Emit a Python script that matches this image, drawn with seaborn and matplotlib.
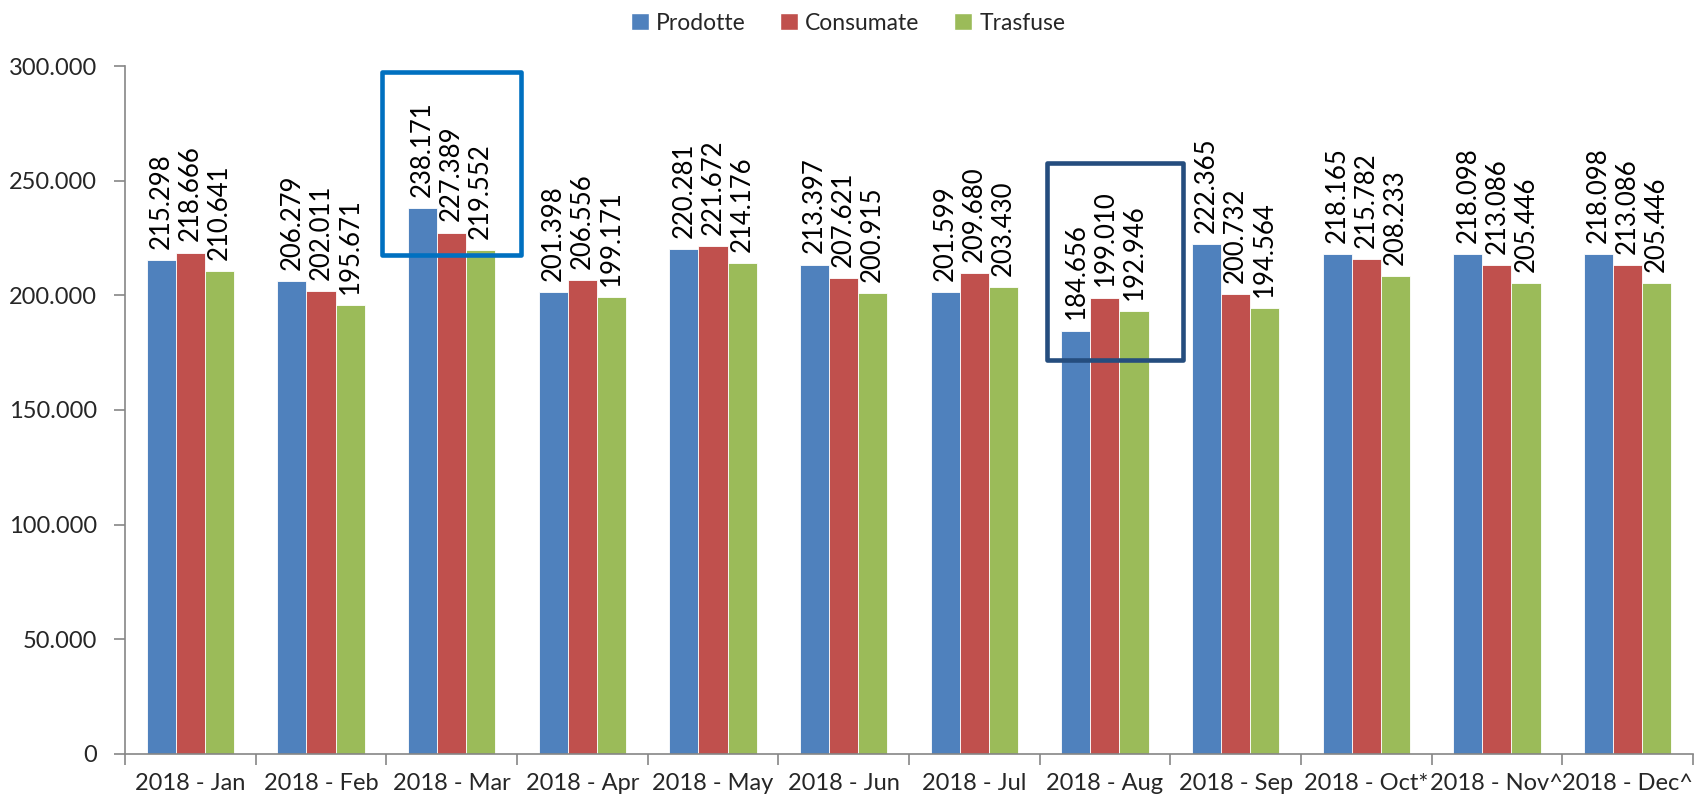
import pandas as pd
import numpy as np
import matplotlib
matplotlib.use('Agg')
import matplotlib.pyplot as plt
import seaborn as sns
from matplotlib.patches import Rectangle
from matplotlib.ticker import FuncFormatter, FixedLocator

months = ['2018 - Jan', '2018 - Feb', '2018 - Mar', '2018 - Apr', '2018 - May', '2018 - Jun',
          '2018 - Jul', '2018 - Aug', '2018 - Sep', '2018 - Oct*', '2018 - Nov^', '2018 - Dec^']
prodotte = [215298, 206279, 238171, 201398, 220281, 213397, 201599, 184656, 222365, 218165, 218098, 218098]
consumate = [218666, 202011, 227389, 206556, 221672, 207621, 209680, 199010, 200732, 215782, 213086, 213086]
trasfuse = [210641, 195671, 219552, 199171, 214176, 200915, 203430, 192946, 194564, 208233, 205446, 205446]
series = ['Prodotte', 'Consumate', 'Trasfuse']
colors = ['#4F81BD', '#C0504D', '#9BBB59']

df = pd.DataFrame({'mese': months * 3,
                   'serie': np.repeat(series, len(months)),
                   'valore': prodotte + consumate + trasfuse})

sns.set_style('white')
plt.rcParams['font.family'] = ['Lato', 'DejaVu Sans']

def itfmt(v):
    return f'{int(round(v)):,}'.replace(',', '.')

fig = plt.figure(figsize=(16.96, 8.02), dpi=100)
ax = fig.add_axes([0.0737, 0.0599, 0.9245, 0.8578])

sns.barplot(data=df, x='mese', y='valore', hue='serie', palette=colors,
            width=0.667, gap=0, edgecolor='white', linewidth=0.6,
            saturation=1, legend=False, ax=ax)

for cont in ax.containers:
    for bar in cont:
        h = bar.get_height()
        ax.annotate(itfmt(h), (bar.get_x() + bar.get_width() / 2, h),
                    xytext=(0, 8), textcoords='offset points',
                    rotation=90, ha='center', va='bottom', fontsize=18.5, color='black')

ax.set_xlim(-0.5, len(months) - 0.5)
ax.set_ylim(0, 300000)
ax.set_yticks(np.arange(0, 300001, 50000))
ax.yaxis.set_major_formatter(FuncFormatter(lambda v, p: itfmt(v)))
ax.set_xlabel('')
ax.set_ylabel('')

ax.xaxis.set_minor_locator(FixedLocator(np.arange(-0.5, len(months), 1)))
ax.tick_params(axis='x', which='major', length=0, pad=14, labelsize=17)
ax.tick_params(axis='x', which='minor', length=8, width=1.2, color='#868686', direction='out', bottom=True)
ax.tick_params(axis='y', length=8, width=1.2, color='#868686', direction='out', left=True, pad=12, labelsize=17)

for s in ['top', 'right']:
    ax.spines[s].set_visible(False)
for s in ['left', 'bottom']:
    ax.spines[s].set_color('#868686')
    ax.spines[s].set_linewidth(1.2)

# evidenziazioni
ax.add_patch(Rectangle((1.47, 217600), 1.06, 79800, fill=False, edgecolor='#0070C0',
                       linewidth=3.3, joinstyle='round', zorder=5, clip_on=False))
ax.add_patch(Rectangle((6.56, 171800), 1.04, 85900, fill=False, edgecolor='#254D7E',
                       linewidth=3.3, joinstyle='round', zorder=5, clip_on=False))

handles = [Rectangle((0, 0), 1, 1, facecolor=c) for c in colors]
fig.legend(handles, series, loc='upper center', bbox_to_anchor=(0.5, 1.01), ncol=3,
           frameon=False, fontsize=16.5, handlelength=0.8, handleheight=0.8,
           handletextpad=0.3, columnspacing=1.5)

fig.savefig('out.png', dpi=100)
